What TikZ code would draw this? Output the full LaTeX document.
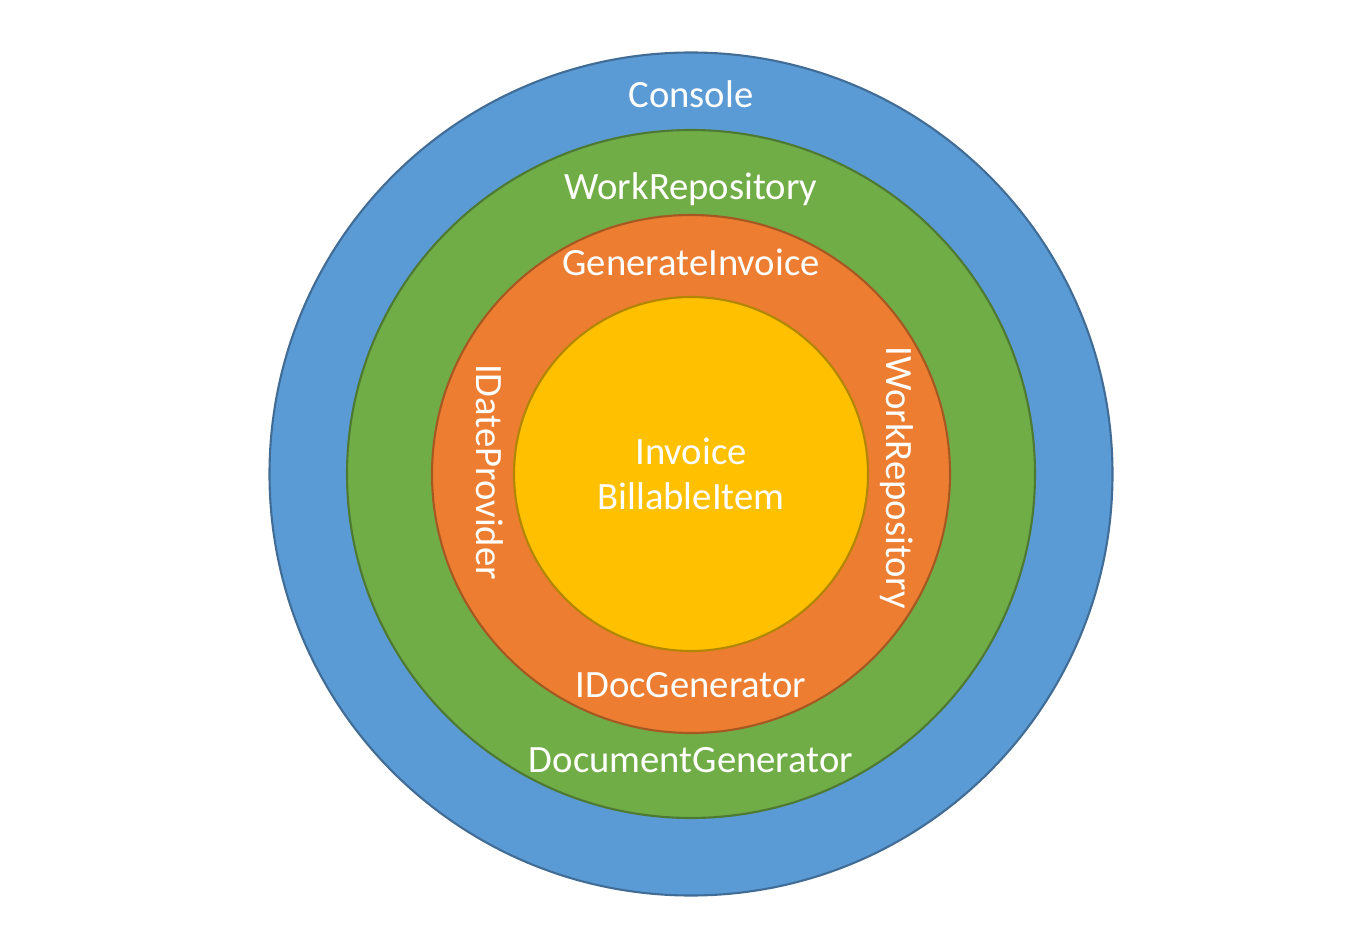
\documentclass[tikz,border=0pt]{standalone}
\usepackage{fontspec}
\setmainfont{Carlito}
\definecolor{ringblue}{HTML}{5B9BD5}
\definecolor{ringgreen}{HTML}{70AD47}
\definecolor{ringorange}{HTML}{ED7D31}
\definecolor{ringyellow}{HTML}{FFC000}
\tikzset{
  ring/.style={circle,draw=#1!70!black,fill=#1,line width=1.2pt,inner sep=0pt},
  lbl/.style={text=white,font=\fontsize{22}{26}\selectfont}
}
\begin{document}
\begin{tikzpicture}[x=0.02cm,y=-0.02cm]
\useasboundingbox (0,0) rectangle (1368,945);
\coordinate (C) at (691,474);
\node [ring=ringblue,minimum size=843*0.02cm] (console) at (C) {};
\node [ring=ringgreen,minimum size=688*0.02cm] (outer) at (C) {};
\node [ring=ringorange,minimum size=518*0.02cm] (app) at (C) {};
\node [ring=ringyellow,minimum size=354*0.02cm] (core) at (C) {};
\node [lbl] (l1) at (691,94) {Console};
\node [lbl] (l2) at (691,189) {WorkRepository};
\node [lbl] (l3) at (691,262) {GenerateInvoice};
\node [lbl] (l4) at (691,685) {IDocGenerator};
\node [lbl] (l5) at (691,760) {DocumentGenerator};
\node [lbl,rotate=-90] (l6) at (490,472) {IDateProvider};
\node [lbl,rotate=-90] (l7) at (897,478) {IWorkRepository};
\node [lbl,align=center] (l8) at (691,474) {Invoice\\BillableItem};
\end{tikzpicture}
\end{document}
